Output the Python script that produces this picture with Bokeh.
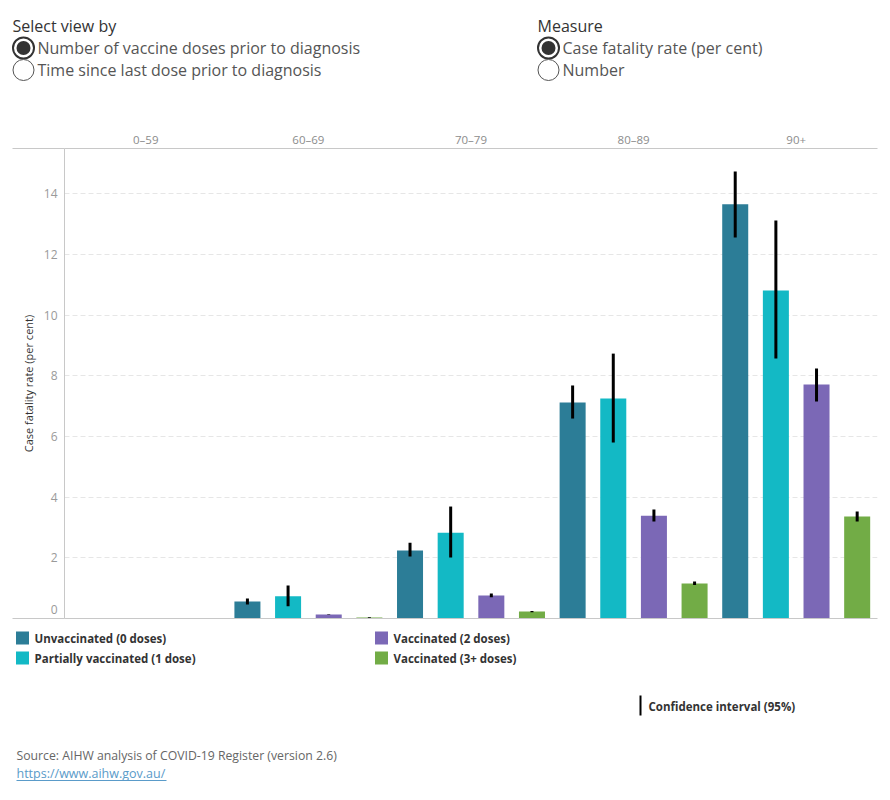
from bokeh.plotting import figure
from bokeh.layouts import column
from bokeh.models import (FactorRange, Range1d, CategoricalAxis, FixedTicker,
                          ColumnDataSource)
from bokeh.core.properties import value
from bokeh.embed import file_html
from bokeh.resources import INLINE

FONT = "Open Sans"

# ---- data -----------------------------------------------------------------
age_groups = ["0–59", "60–69", "70–79", "80–89", "90+"]
statuses = ["Unvaccinated (0 doses)", "Partially vaccinated (1 dose)",
            "Vaccinated (2 doses)", "Vaccinated (3+ doses)"]
status_colors = ["#2C7D97", "#13B9C5", "#7B68B6", "#72AC46"]

# case fatality rate (per cent) by age group, with 95% confidence interval
rate_0 = [0.00, 0.56, 2.24, 7.12, 13.65]
low_0 = [0.00, 0.46, 2.04, 6.59, 12.56]
high_0 = [0.00, 0.66, 2.50, 7.68, 14.73]

rate_1 = [0.00, 0.73, 2.83, 7.25, 10.81]
low_1 = [0.00, 0.40, 2.01, 5.80, 8.57]
high_1 = [0.00, 1.09, 3.69, 8.73, 13.12]

rate_2 = [0.00, 0.13, 0.76, 3.39, 7.71]
low_2 = [0.00, 0.12, 0.70, 3.20, 7.15]
high_2 = [0.00, 0.14, 0.82, 3.59, 8.24]

rate_3 = [0.00, 0.03, 0.23, 1.15, 3.36]
low_3 = [0.00, 0.02, 0.21, 1.10, 3.20]
high_3 = [0.00, 0.04, 0.25, 1.22, 3.53]

grid_values = [2, 4, 6, 8, 10, 12, 14]

rates = [rate_0, rate_1, rate_2, rate_3]
lows = [low_0, low_1, low_2, low_3]
highs = [high_0, high_1, high_2, high_3]

rows = dict(x=[], top=[], low=[], high=[], color=[])
for gi, age in enumerate(age_groups):
    for si, status in enumerate(statuses):
        rows["x"].append((age, status))
        rows["top"].append(rates[si][gi])
        rows["low"].append(lows[si][gi])
        rows["high"].append(highs[si][gi])
        rows["color"].append(status_colors[si])
src = ColumnDataSource(rows)


def blank(fig):
    fig.xgrid.visible = False
    fig.ygrid.visible = False
    fig.outline_line_color = None
    fig.min_border = 0
    return fig


# ---- radio-button header ---------------------------------------------------
ctrl = blank(figure(width=890, height=120, x_range=Range1d(0, 890),
                    y_range=Range1d(120, 0), x_axis_location=None,
                    y_axis_location=None, toolbar_location=None,
                    output_backend="svg", frame_align=False))
ctrl.text(x=[12, 537], y=[25, 25], text=["Select view by", "Measure"],
          text_font=value(FONT), text_font_size="16px", text_color="#333333",
          text_baseline="middle")
ctrl.text(x=[37, 37, 562, 562], y=[47, 69, 47, 69],
          text=["Number of vaccine doses prior to diagnosis",
                "Time since last dose prior to diagnosis",
                "Case fatality rate (per cent)", "Number"],
          text_font=value(FONT), text_font_size="16px", text_color="#555555",
          text_baseline="middle")
ctrl.scatter(x=[23, 23, 548, 548], y=[47.5, 69.5, 47.5, 69.5], size=21,
             fill_color="white",
             line_color=["#333333", "#555555", "#333333", "#555555"],
             line_width=[2, 1, 2, 1])
ctrl.scatter(x=[23, 548], y=[47.5, 47.5], size=14, fill_color="#333333",
             line_color=None)

# ---- main chart ------------------------------------------------------------
factors = [(a, s) for a in age_groups for s in statuses]
x_range = FactorRange(factors=factors, factor_padding=0, group_padding=0,
                      range_padding=0)
y_top = 15.49

p = figure(width=890, height=505, x_range=x_range, y_range=Range1d(0, y_top),
           x_axis_location=None, toolbar_location=None, output_backend="svg",
           min_border_left=64, min_border_right=13, min_border_top=28,
           min_border_bottom=7, frame_align=False)
p.outline_line_color = None
p.xgrid.visible = False

p.extra_x_ranges = {"ages": FactorRange(factors=age_groups, range_padding=0)}
age_axis = CategoricalAxis(x_range_name="ages")
age_axis.axis_line_color = "#c8c8c8"
age_axis.major_tick_line_color = None
age_axis.major_tick_out = 0
age_axis.minor_tick_line_color = None
age_axis.major_label_standoff = 2
age_axis.major_label_text_font = FONT
age_axis.major_label_text_font_size = "11.5px"
age_axis.major_label_text_color = "#8c8c8c"
p.add_layout(age_axis, "above")

# baseline along the bottom of the bars
base_axis = CategoricalAxis(x_range_name="ages")
base_axis.axis_line_color = "#c8c8c8"
base_axis.major_tick_line_color = None
base_axis.major_tick_out = 0
base_axis.minor_tick_line_color = None
base_axis.major_label_standoff = 0
base_axis.major_label_text_font_size = "0px"
base_axis.major_label_text_color = None
p.add_layout(base_axis, "below")

yax = p.yaxis[0]
# the zero label sits just above the baseline; the header rule and the
# baseline are continued to the left edge by long minor ticks
yax.ticker = FixedTicker(ticks=[0.3] + grid_values, minor_ticks=[0, y_top])
yax.major_label_overrides = {0.3: "0"}
yax.axis_line_color = "#c8c8c8"
yax.major_tick_line_color = None
yax.major_tick_out = 0
yax.minor_tick_line_color = "#c8c8c8"
yax.minor_tick_out = 52
yax.minor_tick_in = 0
yax.major_label_standoff = -45
yax.major_label_text_font = FONT
yax.major_label_text_font_size = "12px"
yax.major_label_text_color = "#9a9a9a"
yax.axis_label = "Case fatality rate (per cent)"
yax.axis_label_text_font = FONT
yax.axis_label_text_font_size = "11px"
yax.axis_label_text_font_style = "normal"
yax.axis_label_text_color = "#333333"
yax.axis_label_standoff = 5

p.ygrid.ticker = FixedTicker(ticks=grid_values)
p.ygrid.grid_line_color = "#e6e6e6"
p.ygrid.grid_line_dash = "5 3"

p.vbar(x="x", top="top", width=0.64, fill_color="color", line_color=None,
       source=src)
p.segment(x0="x", y0="low", x1="x", y1="high", line_color="black",
          line_width=3, source=src)

# ---- legend and source -----------------------------------------------------
leg = blank(figure(width=890, height=175, x_range=Range1d(0, 890),
                   y_range=Range1d(175, 0), x_axis_location=None,
                   y_axis_location=None, toolbar_location=None,
                   output_backend="svg", frame_align=False))
leg_x = [22, 22, 381, 381]
leg_y = [12.5, 32.5, 12.5, 32.5]
leg.rect(x=leg_x, y=leg_y, width=13, height=13, fill_color=status_colors,
         line_color=None)
leg.text(x=[34, 34, 393, 393], y=leg_y, text=statuses, text_font=value(FONT),
         text_font_size="11.5px", text_font_style="bold", text_color="#333333",
         text_baseline="middle")
leg.segment(x0=[640], y0=[70], x1=[640], y1=[90], line_color="black",
            line_width=2)
leg.text(x=[648], y=[81], text=["Confidence interval (95%)"],
         text_font=value(FONT), text_font_size="11.5px", text_font_style="bold",
         text_color="#333333", text_baseline="middle")
leg.text(x=[16], y=[130],
         text=["Source: AIHW analysis of COVID-19 Register (version 2.6)"],
         text_font=value(FONT), text_font_size="12.25px", text_color="#666666",
         text_baseline="middle")
leg.text(x=[16], y=[148], text=["https://www.aihw.gov.au/"],
         text_font=value(FONT), text_font_size="12.5px", text_color="#5A9BC9",
         text_baseline="middle")
leg.segment(x0=[16], y0=[155], x1=[166], y1=[155], line_color="#5A9BC9",
            line_width=1)

page = column(ctrl, p, leg, spacing=0)
open("out.html", "w").write(file_html(page, INLINE))
